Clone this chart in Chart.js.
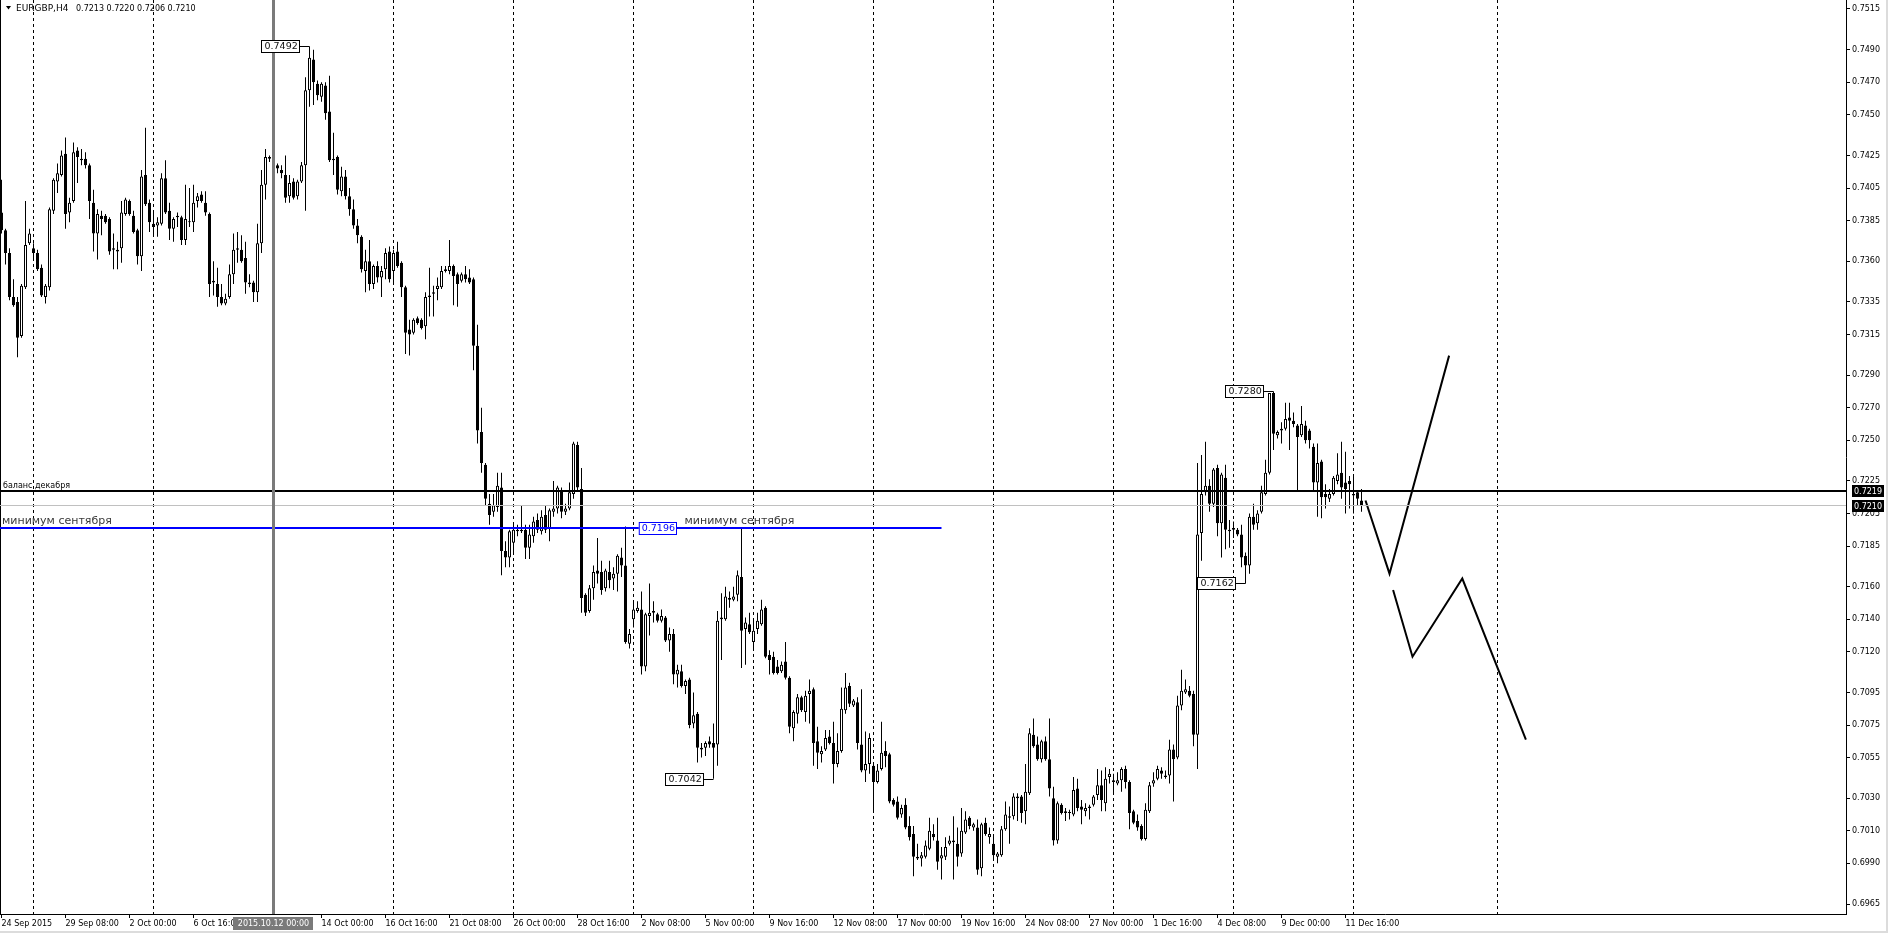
<!DOCTYPE html>
<html><head><meta charset="utf-8">
<script src="https://cdn.jsdelivr.net/npm/chart.js@4.4.0/dist/chart.umd.min.js"></script>
<style>html,body{margin:0;padding:0;background:#fff;overflow:hidden}canvas{display:block}</style>
</head><body>
<canvas id="c" width="1888" height="933"></canvas>
<script>
// ---------- DATA ----------
const symbolTitle = 'EURGBP,H4';
const lastQuote = ['0.7213', '0.7220', '0.7206', '0.7210'];

const opens = [
0.7390,0.7379,0.7365,0.7338,0.7335,0.7314,0.7344,0.7371,0.7368,0.7365,
0.7356,0.7338,0.7344,0.7391,0.7409,0.7413,0.7426,0.7390,0.7397,0.7428,
0.7423,0.7423,0.7419,0.7396,0.7377,0.7388,0.7388,0.7386,0.7368,0.7366,
0.7368,0.7389,0.7397,0.7388,0.7379,0.7363,0.7413,0.7396,0.7383,0.7382,
0.7383,0.7411,0.7391,0.7380,0.7387,0.7387,0.7373,0.7384,0.7384,0.7397,
0.7401,0.7396,0.7389,0.7348,0.7346,0.7338,0.7334,0.7338,0.7352,0.7367,
0.7367,0.7362,0.7347,0.7347,0.7341,0.7371,0.7407,0.7423,0.7423,0.7419,
0.7416,0.7413,0.7400,0.7409,0.7400,0.7409,0.7419,0.7465,0.7484,0.7469,
0.7461,0.7468,0.7452,0.7423,0.7424,0.7403,0.7412,0.7400,0.7392,0.7382,
0.7375,0.7354,0.7360,0.7346,0.7357,0.7350,0.7355,0.7366,0.7354,0.7366,
0.7359,0.7344,0.7318,0.7316,0.7325,0.7324,0.7320,0.7338,0.7340,0.7343,
0.7344,0.7354,0.7354,0.7357,0.7352,0.7348,0.7352,0.7350,0.7349,0.7308,
0.7255,0.7235,0.7211,0.7206,0.7209,0.7221,0.7182,0.7178,0.7187,0.7194,
0.7195,0.7195,0.7184,0.7191,0.7201,0.7194,0.7204,0.7196,0.7206,0.7208,
0.7219,0.7206,0.7208,0.7217,0.7247,0.7220,0.7155,0.7145,0.7159,0.7170,
0.7169,0.7159,0.7169,0.7165,0.7168,0.7178,0.7173,0.7125,0.7140,0.7145,
0.7146,0.7111,0.7142,0.7145,0.7143,0.7139,0.7141,0.7127,0.7131,0.7106,
0.7108,0.7099,0.7103,0.7076,0.7082,0.7061,0.7061,0.7065,0.7064,0.7063,
0.7140,0.7140,0.7153,0.7152,0.7155,0.7166,0.7134,0.7137,0.7126,0.7134,
0.7137,0.7147,0.7118,0.7117,0.7111,0.7108,0.7114,0.7104,0.7073,0.7082,
0.7092,0.7083,0.7094,0.7097,0.7065,0.7057,0.7060,0.7068,0.7064,0.7051,
0.7059,0.7084,0.7099,0.7087,0.7089,0.7063,0.7047,0.7051,0.7050,0.7040,
0.7048,0.7059,0.7057,0.7029,0.7028,0.7020,0.7026,0.7013,0.7008,0.6994,
0.6993,0.6994,0.6999,0.7008,0.7004,0.6993,0.6994,0.7002,0.7003,0.7002,
0.6996,0.7009,0.7018,0.7012,0.7012,0.6987,0.7015,0.7006,0.7002,0.6994,
0.6995,0.7011,0.7019,0.7019,0.7030,0.7031,0.7022,0.7033,0.7069,0.7063,
0.7054,0.7065,0.7054,0.7030,0.7004,0.7026,0.7022,0.7021,0.7020,0.7036,
0.7025,0.7022,0.7024,0.7026,0.7032,0.7038,0.7027,0.7043,0.7041,0.7039,
0.7041,0.7048,0.7040,0.7022,0.7016,0.7013,0.7005,0.7022,0.7039,0.7042,
0.7047,0.7044,0.7044,0.7060,0.7055,0.7087,0.7095,0.7096,0.7094,0.7069,
0.7193,0.7218,0.7222,0.7211,0.7233,0.7199,0.7227,0.7195,0.7196,0.7195,
0.7192,0.7179,0.7173,0.7203,0.7199,0.7206,0.7217,0.7230,0.7279,0.7253,
0.7256,0.7257,0.7264,0.7262,0.7259,0.7253,0.7259,0.7256,0.7246,0.7224,
0.7237,0.7217,0.7214,0.7217,0.7225,0.7230,0.7224,0.7225,0.7216,0.7218,0.7213
];
const highs = [
0.7410,0.7380,0.7368,0.7349,0.7338,0.7346,0.7397,0.7380,0.7371,0.7367,
0.7358,0.7346,0.7393,0.7411,0.7420,0.7428,0.7436,0.7399,0.7433,0.7430,
0.7429,0.7427,0.7420,0.7404,0.7392,0.7391,0.7389,0.7387,0.7377,0.7372,
0.7397,0.7399,0.7398,0.7391,0.7380,0.7416,0.7442,0.7398,0.7391,0.7387,
0.7414,0.7422,0.7396,0.7387,0.7390,0.7388,0.7407,0.7405,0.7407,0.7402,
0.7403,0.7403,0.7390,0.7360,0.7356,0.7346,0.7340,0.7358,0.7377,0.7378,
0.7376,0.7372,0.7352,0.7348,0.7383,0.7416,0.7429,0.7425,0.7426,0.7420,
0.7419,0.7425,0.7413,0.7411,0.7410,0.7421,0.7473,0.7492,0.7490,0.7471,
0.7470,0.7470,0.7474,0.7439,0.7425,0.7418,0.7416,0.7405,0.7398,0.7386,
0.7376,0.7367,0.7373,0.7358,0.7360,0.7357,0.7368,0.7369,0.7367,0.7372,
0.7360,0.7345,0.7324,0.7325,0.7326,0.7325,0.7341,0.7356,0.7345,0.7350,
0.7357,0.7357,0.7373,0.7358,0.7353,0.7353,0.7357,0.7355,0.7350,0.7321,
0.7270,0.7236,0.7217,0.7217,0.7230,0.7230,0.7188,0.7195,0.7199,0.7198,
0.7210,0.7198,0.7198,0.7203,0.7205,0.7207,0.7210,0.7208,0.7225,0.7222,
0.7221,0.7211,0.7224,0.7249,0.7249,0.7233,0.7156,0.7161,0.7173,0.7190,
0.7176,0.7171,0.7176,0.7172,0.7180,0.7184,0.7197,0.7134,0.7151,0.7151,
0.7157,0.7144,0.7162,0.7151,0.7144,0.7146,0.7142,0.7135,0.7134,0.7112,
0.7112,0.7103,0.7104,0.7095,0.7083,0.7064,0.7065,0.7068,0.7076,0.7145,
0.7156,0.7160,0.7157,0.7160,0.7170,0.7196,0.7141,0.7144,0.7139,0.7144,
0.7152,0.7148,0.7121,0.7120,0.7115,0.7114,0.7126,0.7105,0.7084,0.7094,
0.7093,0.7096,0.7103,0.7098,0.7074,0.7062,0.7072,0.7072,0.7077,0.7070,
0.7098,0.7107,0.7101,0.7091,0.7092,0.7097,0.7071,0.7070,0.7051,0.7051,
0.7077,0.7065,0.7058,0.7030,0.7031,0.7026,0.7030,0.7019,0.7013,0.7002,
0.6997,0.7004,0.7018,0.7014,0.7018,0.7000,0.7006,0.7007,0.7019,0.7012,
0.7024,0.7022,0.7019,0.7015,0.7017,0.7015,0.7018,0.7012,0.7008,0.6997,
0.7013,0.7028,0.7025,0.7033,0.7033,0.7032,0.7051,0.7073,0.7079,0.7068,
0.7066,0.7068,0.7079,0.7037,0.7028,0.7027,0.7024,0.7023,0.7043,0.7042,
0.7029,0.7027,0.7026,0.7032,0.7048,0.7047,0.7049,0.7048,0.7045,0.7046,
0.7049,0.7050,0.7041,0.7023,0.7020,0.7014,0.7027,0.7040,0.7046,0.7050,
0.7049,0.7047,0.7066,0.7063,0.7093,0.7109,0.7103,0.7099,0.7096,0.7236,
0.7241,0.7249,0.7226,0.7233,0.7235,0.7230,0.7235,0.7201,0.7200,0.7196,
0.7198,0.7181,0.7205,0.7211,0.7207,0.7222,0.7238,0.7279,0.7280,0.7256,
0.7261,0.7273,0.7273,0.7267,0.7260,0.7271,0.7262,0.7257,0.7248,0.7248,
0.7238,0.7223,0.7220,0.7228,0.7242,0.7249,0.7243,0.7228,0.7229,0.7219,0.7220
];
const lows = [
0.7377,0.7358,0.7336,0.7332,0.7301,0.7313,0.7343,0.7370,0.7361,0.7354,
0.7338,0.7334,0.7342,0.7389,0.7402,0.7412,0.7380,0.7384,0.7396,0.7408,
0.7419,0.7417,0.7386,0.7366,0.7361,0.7376,0.7383,0.7364,0.7355,0.7355,
0.7359,0.7388,0.7388,0.7377,0.7358,0.7354,0.7394,0.7378,0.7376,0.7375,
0.7382,0.7389,0.7373,0.7372,0.7381,0.7370,0.7370,0.7381,0.7378,0.7393,
0.7396,0.7388,0.7338,0.7339,0.7332,0.7333,0.7333,0.7337,0.7346,0.7359,
0.7359,0.7340,0.7344,0.7335,0.7335,0.7365,0.7398,0.7421,0.7417,0.7414,
0.7411,0.7396,0.7396,0.7398,0.7398,0.7408,0.7391,0.7455,0.7456,0.7459,
0.7458,0.7447,0.7421,0.7413,0.7401,0.7400,0.7398,0.7388,0.7380,0.7371,
0.7353,0.7341,0.7342,0.7343,0.7347,0.7338,0.7349,0.7347,0.7347,0.7356,
0.7338,0.7303,0.7302,0.7315,0.7321,0.7318,0.7312,0.7326,0.7326,0.7336,
0.7343,0.7353,0.7352,0.7333,0.7332,0.7347,0.7347,0.7346,0.7293,0.7248,
0.7230,0.7210,0.7198,0.7203,0.7206,0.7167,0.7172,0.7172,0.7180,0.7191,
0.7193,0.7177,0.7177,0.7187,0.7193,0.7192,0.7193,0.7188,0.7203,0.7205,
0.7202,0.7204,0.7207,0.7214,0.7219,0.7144,0.7142,0.7144,0.7152,0.7162,
0.7155,0.7157,0.7159,0.7158,0.7157,0.7166,0.7125,0.7122,0.7135,0.7144,
0.7106,0.7108,0.7130,0.7138,0.7138,0.7138,0.7126,0.7120,0.7100,0.7098,
0.7098,0.7094,0.7073,0.7073,0.7052,0.7055,0.7056,0.7061,0.7042,0.7050,
0.7115,0.7139,0.7147,0.7151,0.7151,0.7110,0.7112,0.7131,0.7121,0.7131,
0.7136,0.7116,0.7106,0.7106,0.7106,0.7107,0.7103,0.7070,0.7065,0.7076,
0.7083,0.7077,0.7076,0.7050,0.7048,0.7052,0.7059,0.7063,0.7039,0.7049,
0.7058,0.7082,0.7086,0.7086,0.7060,0.7046,0.7040,0.7045,0.7021,0.7039,
0.7047,0.7049,0.7027,0.7025,0.7017,0.7018,0.7011,0.7004,0.6982,0.6992,
0.6988,0.6993,0.6998,0.7004,0.6986,0.6980,0.6992,0.7001,0.6980,0.6988,
0.6994,0.7008,0.7011,0.7010,0.6983,0.6982,0.7007,0.7002,0.6992,0.6990,
0.6994,0.7010,0.7002,0.7017,0.7016,0.7015,0.7014,0.7032,0.7061,0.7053,
0.7052,0.7053,0.7031,0.7001,0.7002,0.7020,0.7016,0.7017,0.7019,0.7022,
0.7014,0.7019,0.7017,0.7025,0.7029,0.7022,0.7022,0.7039,0.7033,0.7038,
0.7034,0.7036,0.7011,0.7014,0.7010,0.7004,0.7004,0.7021,0.7037,0.7041,
0.7042,0.7042,0.7039,0.7028,0.7054,0.7084,0.7094,0.7092,0.7062,0.7048,
0.7176,0.7216,0.7206,0.7209,0.7191,0.7178,0.7183,0.7184,0.7190,0.7191,
0.7172,0.7162,0.7168,0.7195,0.7195,0.7205,0.7216,0.7229,0.7244,0.7251,
0.7248,0.7256,0.7244,0.7258,0.7219,0.7252,0.7248,0.7245,0.7219,0.7203,
0.7202,0.7208,0.7212,0.7216,0.7223,0.7214,0.7205,0.7208,0.7205,0.7210,0.7206
];
const closes = [
0.7379,0.7365,0.7338,0.7333,0.7313,0.7345,0.7370,0.7377,0.7365,0.7355,
0.7339,0.7345,0.7392,0.7410,0.7414,0.7425,0.7389,0.7396,0.7427,0.7424,
0.7422,0.7419,0.7397,0.7377,0.7389,0.7386,0.7384,0.7366,0.7367,0.7367,
0.7390,0.7398,0.7389,0.7378,0.7363,0.7412,0.7395,0.7384,0.7381,0.7384,
0.7411,0.7390,0.7380,0.7386,0.7388,0.7373,0.7386,0.7384,0.7396,0.7400,
0.7397,0.7390,0.7346,0.7347,0.7338,0.7334,0.7337,0.7352,0.7367,0.7368,
0.7360,0.7347,0.7346,0.7341,0.7371,0.7407,0.7424,0.7424,0.7420,0.7417,
0.7414,0.7399,0.7408,0.7399,0.7409,0.7419,0.7465,0.7485,0.7470,0.7462,
0.7469,0.7451,0.7422,0.7422,0.7404,0.7412,0.7400,0.7392,0.7382,0.7376,
0.7355,0.7360,0.7346,0.7357,0.7350,0.7354,0.7365,0.7349,0.7365,0.7357,
0.7344,0.7316,0.7315,0.7324,0.7322,0.7319,0.7338,0.7339,0.7341,0.7345,
0.7354,0.7355,0.7357,0.7351,0.7346,0.7352,0.7349,0.7347,0.7308,0.7256,
0.7236,0.7214,0.7204,0.7210,0.7222,0.7182,0.7178,0.7194,0.7195,0.7195,
0.7194,0.7184,0.7192,0.7200,0.7195,0.7203,0.7195,0.7207,0.7208,0.7221,
0.7206,0.7208,0.7218,0.7248,0.7221,0.7153,0.7144,0.7159,0.7169,0.7168,
0.7158,0.7170,0.7164,0.7168,0.7179,0.7173,0.7126,0.7131,0.7146,0.7147,
0.7111,0.7143,0.7144,0.7144,0.7139,0.7142,0.7127,0.7131,0.7106,0.7109,
0.7099,0.7102,0.7075,0.7081,0.7061,0.7060,0.7064,0.7063,0.7061,0.7139,
0.7141,0.7154,0.7152,0.7154,0.7167,0.7133,0.7138,0.7132,0.7133,0.7139,
0.7146,0.7117,0.7115,0.7107,0.7107,0.7112,0.7104,0.7074,0.7083,0.7092,
0.7084,0.7093,0.7096,0.7064,0.7058,0.7059,0.7067,0.7064,0.7051,0.7059,
0.7085,0.7098,0.7088,0.7090,0.7064,0.7047,0.7051,0.7067,0.7040,0.7047,
0.7058,0.7056,0.7028,0.7026,0.7018,0.7024,0.7012,0.7006,0.6994,0.6993,
0.6995,0.7001,0.7010,0.7006,0.6991,0.6995,0.7000,0.7004,0.7004,0.6994,
0.7010,0.7017,0.7013,0.7014,0.6986,0.7014,0.7008,0.7008,0.6995,0.6996,
0.7011,0.7020,0.7018,0.7031,0.7031,0.7021,0.7034,0.7070,0.7062,0.7054,
0.7065,0.7054,0.7036,0.7004,0.7027,0.7021,0.7021,0.7021,0.7035,0.7024,
0.7023,0.7024,0.7025,0.7031,0.7038,0.7029,0.7042,0.7045,0.7040,0.7041,
0.7048,0.7040,0.7021,0.7015,0.7012,0.7005,0.7023,0.7038,0.7041,0.7048,
0.7045,0.7043,0.7060,0.7054,0.7087,0.7096,0.7097,0.7093,0.7069,0.7192,
0.7217,0.7222,0.7211,0.7232,0.7199,0.7229,0.7195,0.7194,0.7195,0.7192,
0.7178,0.7173,0.7203,0.7198,0.7205,0.7218,0.7230,0.7279,0.7254,0.7255,
0.7257,0.7263,0.7262,0.7260,0.7252,0.7260,0.7250,0.7250,0.7224,0.7236,
0.7215,0.7215,0.7217,0.7227,0.7229,0.7221,0.7220,0.7223,0.7217,0.7214,0.7210
];

// x axis (bar index of each time label)
const xTickBars   = [0,16,32,48,80,96,112,128,144,160,176,192,208,224,240,256,272,288,304,320,336];
const xTickLabels = ['24 Sep 2015','29 Sep 08:00','2 Oct 00:00','6 Oct 16:00','14 Oct 00:00','16 Oct 16:00',
  '21 Oct 08:00','26 Oct 00:00','28 Oct 16:00','2 Nov 08:00','5 Nov 00:00','9 Nov 16:00','12 Nov 08:00',
  '17 Nov 00:00','19 Nov 16:00','24 Nov 08:00','27 Nov 00:00','1 Dec 16:00','4 Dec 08:00','9 Dec 00:00','11 Dec 16:00'];
// price axis labels
const yTickValues = [0.7515,0.7490,0.7470,0.7450,0.7425,0.7405,0.7385,0.7360,0.7335,0.7315,0.7290,0.7270,0.7250,
  0.7225,0.7205,0.7185,0.7160,0.7140,0.7120,0.7095,0.7075,0.7055,0.7030,0.7010,0.6990,0.6965];

// weekly period separators (bar index)
const separatorBars = [8,38,68,98,128,158,188,218,248,278,308,338,374];
// vertical marker line
const markerBar = 68;
const markerLabel = '2015.10.12 00:00';

// horizontal objects
const balanceLevel = 0.7219, balanceText = 'баланс декабря';
const bidLevel = 0.7210;
const septLowLevel = 0.7196, septLowEndBar = 235, septLowText = 'минимум сентября';
const septLowTextBars = [0, 171];
const septLowTagBar = 171;

// high / low price callouts: [bar, price]
const calloutBars   = [77, 318, 311, 178];
const calloutPrices = [0.7492, 0.7280, 0.7162, 0.7042];

// hand-drawn forecast zigzags
const zigABars   = [341, 347, 361.9];
const zigAPrices = [0.7213, 0.7168, 0.7302];
const zigBBars   = [347.9, 352.75, 365.2, 381.1];
const zigBPrices = [0.7158, 0.7117, 0.7165, 0.7066];

// ---------- CHART ----------
const FONT = 'DejaVu Sans';
const idx = opens.map((_, i) => i);
const wickData = idx.map(i => ({x: i, y: [lows[i], highs[i]]}));
const bodyData = idx.map(i => ({x: i, y: [opens[i], closes[i]]}));
const bodyFill = idx.map(i => closes[i] >= opens[i] ? '#ffffff' : '#000000');

const overlay = {
  id: 'overlay',
  beforeDatasetsDraw(chart) {
    const {ctx, chartArea: a, scales: {x}} = chart;
    ctx.save();
    ctx.strokeStyle = '#000'; ctx.lineWidth = 1; ctx.setLineDash([3, 3]);
    separatorBars.forEach(b => {
      const px = Math.floor(x.getPixelForValue(b)) + 0.5;
      ctx.beginPath(); ctx.moveTo(px, a.top); ctx.lineTo(px, a.bottom); ctx.stroke();
    });
    ctx.restore();
  },
  afterDatasetsDraw(chart) {
    const {ctx, chartArea: a, scales: {x, y}} = chart;
    ctx.save();
    // frame left edge
    ctx.fillStyle = '#000'; ctx.fillRect(0, a.top, 1, a.bottom - a.top);
    // bid line
    const yb = Math.round(y.getPixelForValue(bidLevel));
    ctx.fillStyle = '#c0c0c0'; ctx.fillRect(a.left, yb, a.right - a.left, 1);
    // balance line
    const yl = Math.round(y.getPixelForValue(balanceLevel));
    ctx.fillStyle = '#000'; ctx.fillRect(a.left, yl - 1, a.right - a.left, 2);
    ctx.font = '8px "' + FONT + '"'; ctx.textBaseline = 'alphabetic'; ctx.textAlign = 'left';
    ctx.fillText(balanceText, 3, yl - 3);
    // September low line
    const ys = Math.round(y.getPixelForValue(septLowLevel));
    const xe = x.getPixelForValue(septLowEndBar);
    ctx.fillStyle = '#0000ff'; ctx.fillRect(a.left, ys - 1, xe - a.left, 2);
    ctx.fillStyle = '#3a3a3a'; ctx.font = '11px "' + FONT + '"';
    septLowTextBars.forEach(b => ctx.fillText(septLowText, Math.max(2, x.getPixelForValue(b) - 1), ys - 4));
    // Sept low tag box
    {
      const xr = Math.round(x.getPixelForValue(septLowTagBar)) - 9;
      ctx.font = '9.5px "' + FONT + '"';
      const t = septLowLevel.toFixed(4); const w = ctx.measureText(t).width + 5;
      ctx.fillStyle = '#fff'; ctx.fillRect(xr - w, ys - 6, w, 13);
      ctx.strokeStyle = '#0000ff'; ctx.lineWidth = 1; ctx.strokeRect(xr - w + 0.5, ys - 5.5, w - 1, 12);
      ctx.fillStyle = '#0000ff'; ctx.textBaseline = 'middle'; ctx.fillText(t, xr - w + 3, ys + 0.5);
    }
    // vertical marker
    const xm = Math.floor(x.getPixelForValue(markerBar));
    ctx.fillStyle = '#7a7a7a'; ctx.fillRect(xm - 1, a.top, 3, a.bottom - a.top);
    // callouts
    ctx.font = '9.5px "' + FONT + '"'; ctx.textBaseline = 'middle';
    calloutBars.forEach((b, k) => {
      const p = calloutPrices[k];
      const cx = Math.floor(x.getPixelForValue(b)) + 0.5;
      const cy = Math.round(y.getPixelForValue(p)) + 0.5;
      const t = p.toFixed(4); const w = Math.round(ctx.measureText(t).width) + 5;
      const xr = cx - 10;
      ctx.strokeStyle = '#000'; ctx.lineWidth = 1;
      ctx.beginPath(); ctx.moveTo(xr, cy); ctx.lineTo(cx, cy); ctx.stroke();
      ctx.fillStyle = '#fff'; ctx.fillRect(xr - w, cy - 6.5, w, 13);
      ctx.strokeRect(xr - w, cy - 6, w, 12);
      ctx.fillStyle = '#111'; ctx.fillText(t, xr - w + 3, cy + 0.5);
    });
    // header
    ctx.fillStyle = '#000';
    ctx.beginPath(); ctx.moveTo(6, 6); ctx.lineTo(11, 6); ctx.lineTo(8.5, 9.5); ctx.closePath(); ctx.fill();
    ctx.textBaseline = 'alphabetic';
    ctx.font = '9px "' + FONT + '"'; ctx.fillText(symbolTitle, 16, 11);
    ctx.font = '8px "' + FONT + '"'; ctx.fillText(lastQuote.join(' '), 76, 11);
    // right axis level boxes
    ctx.font = '8px "' + FONT + '"'; ctx.textBaseline = 'middle';
    [[balanceLevel, yl], [bidLevel, yb + 1]].forEach(([v, py]) => {
      ctx.fillStyle = '#000'; ctx.fillRect(a.right + 6, py - 6, 32, 12);
      ctx.fillStyle = '#fff'; ctx.fillText(v.toFixed(4), a.right + 8, py + 0.5);
    });
    // marker label on time axis
    ctx.fillStyle = '#7a7a7a'; ctx.fillRect(xm - 40, a.bottom + 3, 80, 13);
    ctx.fillStyle = '#fff'; ctx.textAlign = 'center'; ctx.fillText(markerLabel, xm + 0.5, a.bottom + 10);
    // window border
    ctx.fillStyle = '#dcdcdc'; ctx.fillRect(1886, 0, 2, 933); ctx.fillRect(0, 931, 1888, 2);
    ctx.restore();
  }
};

new Chart(document.getElementById('c'), {
  type: 'bar',
  data: {
    datasets: [
      {type: 'line', label: 'zigA', data: zigABars.map((b, i) => ({x: b, y: zigAPrices[i]})),
       borderColor: '#000', borderWidth: 2, pointRadius: 0, tension: 0, fill: false, order: 0},
      {type: 'line', label: 'zigB', data: zigBBars.map((b, i) => ({x: b, y: zigBPrices[i]})),
       borderColor: '#000', borderWidth: 2, pointRadius: 0, tension: 0, fill: false, order: 0},
      {label: 'bodies', data: bodyData, backgroundColor: bodyFill, borderColor: '#000', borderWidth: 1,
       borderSkipped: false, barThickness: 3, minBarLength: 1, grouped: false, inflateAmount: 0, order: 1},
      {label: 'wicks', data: wickData, backgroundColor: '#000', borderWidth: 0, barThickness: 1,
       grouped: false, inflateAmount: 0, order: 2}
    ]
  },
  options: {
    responsive: false, animation: false, events: [], devicePixelRatio: 1,
    layout: {padding: 0},
    plugins: {legend: {display: false}, tooltip: {enabled: false}},
    scales: {
      x: {
        type: 'linear', min: -0.375, max: 461.125, offset: false,
        afterFit(s) { s.height = 19; s.paddingLeft = 0; s.paddingRight = 0; },
        afterBuildTicks(s) { s.ticks = xTickBars.map(v => ({value: v})); },
        ticks: {autoSkip: false, maxRotation: 0, minRotation: 0, align: 'start', color: '#000', padding: 1,
                font: {family: FONT, size: 8}, callback: (v, i) => xTickLabels[i]},
        grid: {drawOnChartArea: false, drawTicks: true, tickLength: 4, color: '#000', offset: false},
        border: {display: true, color: '#000', width: 1}
      },
      y: {
        position: 'right', min: 0.695887, max: 0.752053,
        afterFit(s) { s.width = 42; s.paddingTop = 0; s.paddingBottom = 0; },
        afterBuildTicks(s) { s.ticks = yTickValues.map(v => ({value: v})); },
        ticks: {autoSkip: false, color: '#000', padding: 2, font: {family: FONT, size: 8},
                callback: v => Number(v).toFixed(4)},
        grid: {drawOnChartArea: false, drawTicks: true, tickLength: 4, color: '#000'},
        border: {display: true, color: '#000', width: 1}
      }
    }
  },
  plugins: [overlay]
});
</script>
</body></html>
